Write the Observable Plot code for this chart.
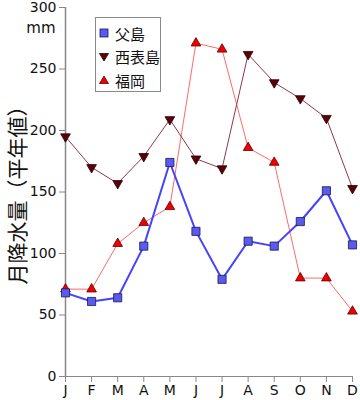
<!DOCTYPE html>
<html><head><meta charset="utf-8">
<script src="https://cdn.jsdelivr.net/npm/d3@7"></script>
<script src="https://cdn.jsdelivr.net/npm/@observablehq/plot@0.6"></script>
<style>
body{margin:0;background:#fff;}
#wrap{position:relative;width:360px;height:400px;}
#legend{position:absolute;left:95px;top:17px;width:66px;height:75px;background:#fff;border:1px solid #8a8a8a;box-sizing:border-box;font-family:"Noto Sans CJK JP",sans-serif;font-size:15px;color:#111;}
#legend .row{position:absolute;left:0;height:20px;display:flex;align-items:center;}
#legend svg{margin-left:3px;margin-right:6px;}
</style></head>
<body><div id="wrap"><div id="legend"></div></div>
<script>
const monthLabels = ["J","F","M","A","M","J","J","A","S","O","N","D"];
const seriesNames = ["父島","西表島","福岡"];
const chichijima = [68, 61, 64, 106, 174, 118, 79, 110, 106, 126, 151, 107];
const iriomote = [195, 170, 157, 179, 209, 177, 169, 262, 239, 226, 210, 153];
const fukuoka = [71, 71, 108, 125, 138, 271, 266, 186, 174, 80, 80, 53];
const yTicks = [0, 50, 100, 150, 200, 250, 300];

const rows = (vals, name) => vals.map((v, i) => ({m: i, v, name}));
const d1 = rows(chichijima, seriesNames[0]);
const d2 = rows(iriomote, seriesNames[1]);
const d3r = rows(fukuoka, seriesNames[2]);

const font = "DejaVu Sans, sans-serif";
const chart = Plot.plot({
  width: 360, height: 400,
  marginLeft: 65, marginRight: 8, marginTop: 7, marginBottom: 24,
  style: {fontFamily: font, fontSize: "14px", color: "#111", background: "#fff", overflow: "visible"},
  x: {domain: [0, 11], axis: null},
  y: {domain: [0, 300], axis: null},
  marks: [
    Plot.axisY({ticks: yTicks, tickSize: 6, tickPadding: 3, stroke: "#888", fontSize: 14, label: null}),
    Plot.axisX({ticks: d3.range(12), tickFormat: i => monthLabels[i], tickSize: 6, tickPadding: 3, stroke: "#888", fontSize: 14, label: null}),
    Plot.ruleX([0], {stroke: "#888", strokeWidth: 1.5}),
    Plot.ruleY([0], {stroke: "#888", strokeWidth: 1}),
    Plot.line(d3r, {x: "m", y: "v", stroke: "#ff6a6a", strokeWidth: 1}),
    Plot.line(d2, {x: "m", y: "v", stroke: "#8a3a4e", strokeWidth: 1}),
    Plot.line(d1, {x: "m", y: "v", stroke: "#4444ff", strokeWidth: 2}),
    Plot.dot(d2, {x: "m", y: "v", symbol: "triangle", rotate: 180, r: 3.6, fill: "#5a0008", stroke: "#2a0000", strokeWidth: 0.8}),
    Plot.dot(d3r, {x: "m", y: "v", symbol: "triangle", r: 3.6, fill: "#ee0000", stroke: "#600000", strokeWidth: 0.8}),
    Plot.dot(d1, {x: "m", y: "v", symbol: "square", r: 4.6, fill: "#5a5af2", stroke: "#1a1a40", strokeWidth: 0.8}),
    Plot.text(["月降水量（平年値）"], {frameAnchor: "left", textAnchor: "middle", dx: -47, dy: -2, rotate: -90, fontSize: 21, fontFamily: "Noto Sans CJK JP", fill: "#111"}),
    Plot.text(["mm"], {frameAnchor: "top-left", dx: -10, dy: 15, fontSize: 15, fill: "#111", textAnchor: "end"})
  ]
});
document.getElementById("wrap").prepend(chart);

const legendSyms = [
  '<svg width="10" height="10"><rect x="1" y="1" width="8" height="8" fill="#5a5af2" stroke="#1a1a40" stroke-width="0.8"/></svg>',
  '<svg width="10" height="10"><path d="M0.5,1.5 L9.5,1.5 L5,9 Z" fill="#5a0008" stroke="#2a0000" stroke-width="0.8"/></svg>',
  '<svg width="10" height="10"><path d="M0.5,8.5 L9.5,8.5 L5,1 Z" fill="#ee0000" stroke="#600000" stroke-width="0.8"/></svg>'
];
const leg = document.getElementById("legend");
seriesNames.forEach((n, i) => {
  const r = document.createElement("div");
  r.className = "row";
  r.style.top = (5 + i * 23.5) + "px";
  r.innerHTML = legendSyms[i] + "<span>" + n + "</span>";
  leg.appendChild(r);
});
</script></body></html>
